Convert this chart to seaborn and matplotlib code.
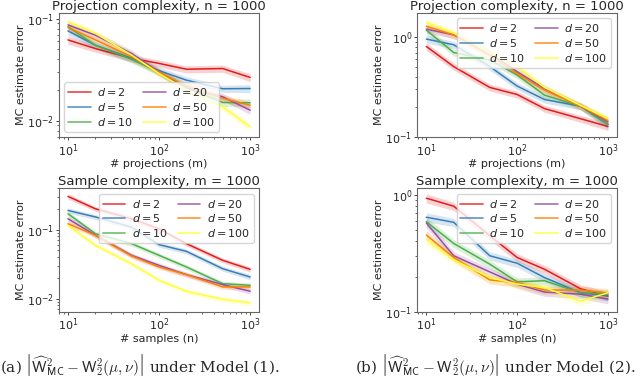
import numpy as np
import pandas as pd
import matplotlib
matplotlib.use("Agg")
import matplotlib.pyplot as plt
import seaborn as sns

sns.set_style("ticks")
plt.rcParams["font.family"] = ["DejaVu Sans"]
plt.rcParams["mathtext.fontset"] = "dejavusans"

x_vals = [10, 20, 50, 100, 200, 500, 1000]
dims = [2, 5, 10, 20, 50, 100]

# model 1, projection complexity (n = 1000)
proj_m1 = {
    2: [0.062, 0.051, 0.041, 0.0365, 0.032, 0.0325, 0.0266],
    5: [0.076, 0.055, 0.041, 0.031, 0.025, 0.0206, 0.0207],
    10: [0.0835, 0.055, 0.040, 0.030, 0.0212, 0.0151, 0.015],
    20: [0.087, 0.069, 0.0457, 0.030, 0.0207, 0.0172, 0.0127],
    50: [0.082, 0.062, 0.0424, 0.030, 0.0219, 0.0166, 0.0142],
    100: [0.093, 0.072, 0.044, 0.029, 0.0203, 0.0137, 0.0087],
}
# model 2, projection complexity (n = 1000)
proj_m2 = {
    2: [0.805, 0.507, 0.314, 0.267, 0.193, 0.153, 0.128],
    5: [0.955, 0.837, 0.507, 0.324, 0.238, 0.204, 0.134],
    10: [1.17, 0.70, 0.59, 0.418, 0.263, 0.204, 0.134],
    20: [1.20, 1.05, 0.69, 0.45, 0.306, 0.204, 0.142],
    50: [1.28, 1.05, 0.66, 0.434, 0.295, 0.204, 0.147],
    100: [1.40, 1.10, 0.69, 0.507, 0.314, 0.208, 0.153],
}
# model 1, sample complexity (m = 1000)
samp_m1 = {
    2: [0.304, 0.201, 0.144, 0.103, 0.0627, 0.036, 0.0266],
    5: [0.19, 0.153, 0.109, 0.0607, 0.0485, 0.0272, 0.0206],
    10: [0.17, 0.0875, 0.0627, 0.0425, 0.0288, 0.0165, 0.0156],
    20: [0.144, 0.083, 0.0425, 0.0304, 0.0223, 0.016, 0.0128],
    50: [0.122, 0.083, 0.0415, 0.0288, 0.0223, 0.0148, 0.0148],
    100: [0.116, 0.0593, 0.0321, 0.0185, 0.0128, 0.0098, 0.0087],
}
# model 2, sample complexity (m = 1000)
samp_m2 = {
    2: [0.936, 0.80, 0.448, 0.292, 0.232, 0.158, 0.137],
    5: [0.644, 0.583, 0.302, 0.261, 0.197, 0.146, 0.137],
    10: [0.59, 0.385, 0.256, 0.181, 0.185, 0.146, 0.142],
    20: [0.575, 0.302, 0.220, 0.173, 0.148, 0.142, 0.129],
    50: [0.454, 0.292, 0.188, 0.178, 0.154, 0.154, 0.145],
    100: [0.414, 0.279, 0.197, 0.173, 0.162, 0.124, 0.146],
}
# relative half-width of the shaded bands, per x value
band_rel = [0.09, 0.08, 0.08, 0.08, 0.08, 0.08, 0.09]

palette = sns.color_palette("Set1", 6)
palette[5] = "#ffff33"

fig = plt.figure(figsize=(6.4, 3.92), dpi=100)
panels = [
    (proj_m1, [0.092, 0.650, 0.313, 0.317], "Projection complexity, n = 1000", "# projections (m)", (0.0069, 0.114), "lower left"),
    (proj_m2, [0.652, 0.650, 0.312, 0.317], "Projection complexity, n = 1000", "# projections (m)", (0.1, 1.74), "upper right"),
    (samp_m1, [0.092, 0.204, 0.313, 0.316], "Sample complexity, m = 1000", "# samples (n)", (0.0064, 0.40), "upper right"),
    (samp_m2, [0.652, 0.204, 0.312, 0.316], "Sample complexity, m = 1000", "# samples (n)", (0.1, 1.14), "upper right"),
]

for data, rect, title, xlabel, ylim, loc in panels:
    ax = fig.add_axes(rect)
    df = pd.DataFrame([(x, d, v) for d in dims for x, v in zip(x_vals, data[d])],
                      columns=["x", "d", "err"])
    df["label"] = df["d"].map(lambda d: f"$d = {d}$")
    sns.lineplot(data=df, x="x", y="err", hue="label", palette=palette,
                 hue_order=[f"$d = {d}$" for d in dims], lw=1.1, ax=ax)
    for i, d in enumerate(dims):
        v = np.array(data[d])
        r = np.array(band_rel)
        ax.fill_between(x_vals, v * (1 - r), v * (1 + r), color=palette[i],
                        alpha=0.2, lw=0)
    ax.set_xscale("log")
    ax.set_yscale("log")
    ax.set_xlim(10 ** 0.9, 10 ** 3.1)
    ax.set_ylim(*ylim)
    ax.set_title(title, fontsize=9.5, pad=2)
    ax.set_xlabel(xlabel, fontsize=8, labelpad=0.5)
    ax.set_ylabel("MC estimate error", fontsize=8, labelpad=1)
    ax.tick_params(which="major", labelsize=8, pad=1, length=2.5, width=0.6)
    ax.tick_params(which="minor", length=1.5, width=0.5)
    for s in ax.spines.values():
        s.set_color("#666666")
    leg = ax.legend(loc=loc, ncol=2, fontsize=8, handlelength=2.0,
                    columnspacing=0.9, labelspacing=0.25, borderpad=0.35,
                    handletextpad=0.6)
    for h in leg.get_lines():
        h.set_linewidth(1.3)
        h.set_alpha(0.75)

cap_a = r"(a) $\left|\widehat{\mathsf{W}}^{2}_{\mathsf{MC}} - \mathsf{W}^{2}_{2}(\mu,\nu)\right|$ under Model (1)."
cap_b = r"(b) $\left|\widehat{\mathsf{W}}^{2}_{\mathsf{MC}} - \mathsf{W}^{2}_{2}(\mu,\nu)\right|$ under Model (2)."
with plt.rc_context({"mathtext.fontset": "cm"}):
    fig.text(0.0, 0.068, cap_a, fontsize=11, family="serif", va="center")
    fig.text(0.555, 0.068, cap_b, fontsize=11, family="serif", va="center")

fig.savefig("out.png", dpi=100)
